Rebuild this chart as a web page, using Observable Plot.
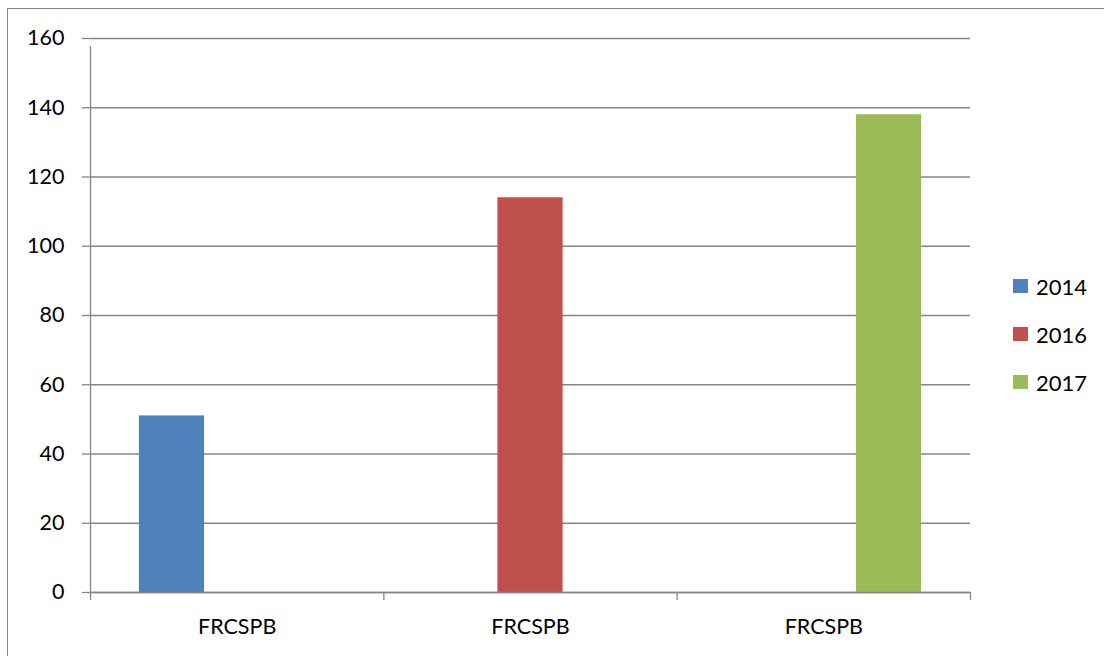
<!DOCTYPE html>
<html>
<head>
<meta charset="utf-8">
<script src="https://cdn.jsdelivr.net/npm/d3@7"></script>
<script src="https://cdn.jsdelivr.net/npm/@observablehq/plot@0.6"></script>
<style>
  html, body { margin: 0; padding: 0; background: #fff; }
  #wrap { position: relative; width: 1104px; height: 656px; overflow: hidden; font-family: Lato, "Open Sans", sans-serif; }
  #border { position: absolute; left: 7px; top: 8px; width: 1200px; height: 800px; border-top: 1.5px solid #868686; border-left: 1.5px solid #868686; box-sizing: border-box; }
  #chart { position: absolute; left: 0; top: 0; }
  #legend { position: absolute; left: 1013px; top: 262px; font-size: 22px; color: #000; }
  .item { display: flex; align-items: center; height: 48px; }
  .sw { width: 15px; height: 14px; margin-right: 8px; }
</style>
</head>
<body>
<div id="wrap">
  <div id="border"></div>
  <div id="chart"></div>
  <div id="legend"></div>
</div>
<script>
// ---- data ----
const categories = ["FRCSPB", "FRCSPB", "FRCSPB"];
const years = ["2014", "2016", "2017"];
const values2014 = [51, 0, 0];
const values2016 = [0, 114, 0];
const values2017 = [0, 0, 138];
const colors = ["#4F81BD", "#C0504D", "#9BBB59"];
const yTicks = [0, 20, 40, 60, 80, 100, 120, 140, 160];

// ---- build table ----
const seriesValues = [values2014, values2016, values2017];
const rows = [];
categories.forEach((c, i) => {
  years.forEach((yr, j) => {
    rows.push({ ci: i, si: j, category: c, year: yr, value: seriesValues[j][i] });
  });
});
// clustered layout: 3 series slots + 1.5 slot gap per category
const slot = 1 / (years.length + 1.5);
const x1 = d => d.ci + 0.5 + (d.si - 1.5) * slot;
const x2 = d => d.ci + 0.5 + (d.si - 0.5) * slot;

const gridColor = "#868686";

const chart = Plot.plot({
  width: 1104,
  height: 656,
  marginLeft: 90,
  marginRight: 134,
  marginTop: 38,
  marginBottom: 64,
  style: { fontFamily: "Lato, 'Open Sans', sans-serif", fontSize: "21.5px", color: "#000", background: "transparent" },
  x: { type: "linear", domain: [0, categories.length] },
  y: { domain: [0, 160] },
  color: { domain: years, range: colors },
  marks: [
    Plot.gridY(yTicks, { stroke: gridColor, strokeOpacity: 1, strokeWidth: 1.3 }),
    Plot.rectY(rows.filter(d => d.value > 0), { x1, x2, y1: 0, y2: "value", fill: "year" }),
    Plot.ruleY([0], { stroke: gridColor, strokeWidth: 1.3 }),
    Plot.ruleX([0], { y1: 0, y2: 160, stroke: gridColor, strokeWidth: 1.3, insetBottom: -8 }),
    Plot.axisY(yTicks, { tickSize: 8, tickPadding: 18, stroke: gridColor, strokeWidth: 1.3, label: null, fill: "#000" }),
    Plot.axisX(d3.range(categories.length + 1), { tickSize: 8, stroke: gridColor, strokeWidth: 1.3, tickFormat: () => "", label: null }),
    Plot.axisX(categories.map((c, i) => i + 0.5), { tickSize: 0, tickPadding: 26, tickFormat: (v) => categories[Math.floor(v)], label: null, fill: "#000" })
  ]
});
document.getElementById("chart").appendChild(chart);

// legend
const legend = document.getElementById("legend");
years.forEach((yr, j) => {
  const item = document.createElement("div");
  item.className = "item";
  const sw = document.createElement("div");
  sw.className = "sw";
  sw.style.background = colors[j];
  const t = document.createElement("span");
  t.textContent = yr;
  item.appendChild(sw);
  item.appendChild(t);
  legend.appendChild(item);
});
</script>
</body>
</html>
